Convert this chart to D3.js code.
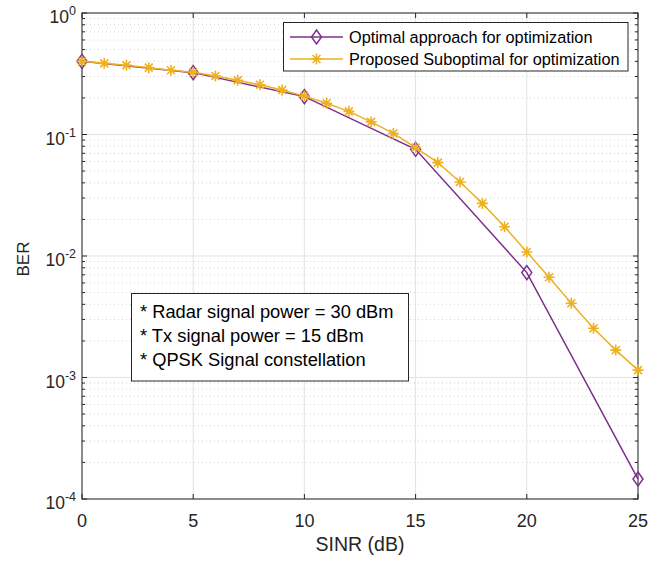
<!DOCTYPE html>
<html><head><meta charset="utf-8">
<script src="https://cdn.jsdelivr.net/npm/d3@7"></script>
<style>body{margin:0;background:#fff}svg{display:block}text{font-family:"Liberation Sans",Arial,Helvetica,sans-serif}</style>
</head><body><svg id="c" width="662" height="562"></svg>
<script>
const optX = [0, 5, 10, 15, 20, 25];
const optBER = [0.40, 0.323, 0.205, 0.0755, 0.0073, 0.000146];
const subX = [0,1,2,3,4,5,6,7,8,9,10,11,12,13,14,15,16,17,18,19,20,21,22,23,24,25];
const subBER = [0.40,0.385,0.371,0.355,0.338,0.325,0.303,0.279,0.257,0.232,0.207,0.181,0.155,0.127,0.102,0.078,0.0587,0.0407,0.0271,0.0174,0.0108,0.00668,0.00408,0.00254,0.00168,0.00115];
const xTicks = [0, 5, 10, 15, 20, 25];
const yExps = [0, -1, -2, -3, -4];
const seriesNames = ["Optimal approach for optimization", "Proposed Suboptimal for optimization"];
const notes = ["* Radar signal power = 30 dBm", "* Tx signal power = 15 dBm", "* QPSK Signal constellation"];
const xLabel = "SINR (dB)", yLabel = "BER";

const C1 = "#7E2F8E", C2 = "#EDB120", AX = "#262626";
const L = 82, R = 638, T = 13, B = 499;
const svg = d3.select("#c");
const x = d3.scaleLinear().domain([0, 25]).range([L, R]);
const y = d3.scaleLog().domain([1e-4, 1]).range([B, T]);

const g = svg.append("g");
const minors = [];
for (let e = -4; e < 0; e++) for (let m = 2; m <= 9; m++) minors.push(m * Math.pow(10, e));
g.selectAll(".mg").data(minors).enter().append("line")
  .attr("x1", L).attr("x2", R).attr("y1", d => y(d)).attr("y2", d => y(d))
  .attr("stroke", "#c8c8c8").attr("stroke-width", 0.8).attr("stroke-dasharray", "1,3");
g.selectAll(".gy").data(yExps.map(e => Math.pow(10, e))).enter().append("line")
  .attr("x1", L).attr("x2", R).attr("y1", d => y(d)).attr("y2", d => y(d))
  .attr("stroke", "#e3e3e3").attr("stroke-width", 1);
g.selectAll(".gx").data(xTicks).enter().append("line")
  .attr("x1", d => x(d)).attr("x2", d => x(d)).attr("y1", T).attr("y2", B)
  .attr("stroke", "#e3e3e3").attr("stroke-width", 1);

const axG = svg.append("g");
axG.append("rect").attr("x", L).attr("y", T).attr("width", R - L).attr("height", B - T)
  .attr("fill", "none").attr("stroke", AX).attr("stroke-width", 1);
xTicks.forEach(t => {
  axG.append("line").attr("x1", x(t)).attr("x2", x(t)).attr("y1", B).attr("y2", B - 5).attr("stroke", AX);
  axG.append("line").attr("x1", x(t)).attr("x2", x(t)).attr("y1", T).attr("y2", T + 5).attr("stroke", AX);
  axG.append("text").attr("x", x(t)).attr("y", 527).attr("text-anchor", "middle")
    .attr("font-size", 18).attr("fill", AX).text(t);
});
yExps.forEach(e => {
  const v = Math.pow(10, e);
  axG.append("line").attr("x1", L).attr("x2", L + 5).attr("y1", y(v)).attr("y2", y(v)).attr("stroke", AX);
  axG.append("line").attr("x1", R).attr("x2", R - 5).attr("y1", y(v)).attr("y2", y(v)).attr("stroke", AX);
  const tx = axG.append("text").attr("x", L - 6).attr("y", y(v) + 10).attr("text-anchor", "end")
    .attr("font-size", 17.5).attr("fill", AX);
  tx.append("tspan").text("10");
  tx.append("tspan").attr("dy", -8).attr("font-size", 12.5).text(e);
});
minors.forEach(v => {
  axG.append("line").attr("x1", L).attr("x2", L + 3).attr("y1", y(v)).attr("y2", y(v)).attr("stroke", AX);
  axG.append("line").attr("x1", R).attr("x2", R - 3).attr("y1", y(v)).attr("y2", y(v)).attr("stroke", AX);
});
axG.append("text").attr("x", 360).attr("y", 551).attr("text-anchor", "middle")
  .attr("font-size", 19.5).attr("fill", AX).text(xLabel);
axG.append("text").attr("transform", `translate(29,259) rotate(-90)`).attr("text-anchor", "middle")
  .attr("font-size", 17).attr("fill", AX).text(yLabel);

const line = d3.line().x(d => x(d[0])).y(d => y(d[1]));
const optData = optX.map((v, i) => [v, optBER[i]]);
const subData = subX.map((v, i) => [v, subBER[i]]);
function diamond(sel, cx, cy) {
  sel.append("path").attr("d", `M${cx},${cy - 7}L${cx + 5},${cy}L${cx},${cy + 7}L${cx - 5},${cy}Z`)
    .attr("fill", "none").attr("stroke", C1).attr("stroke-width", 1.5);
}
function star(sel, cx, cy) {
  const r = 5.5, d = r * 0.72;
  sel.append("path").attr("d", `M${cx - r},${cy}H${cx + r}M${cx},${cy - r}V${cy + r}M${cx - d},${cy - d}L${cx + d},${cy + d}M${cx - d},${cy + d}L${cx + d},${cy - d}`)
    .attr("fill", "none").attr("stroke", C2).attr("stroke-width", 1.6);
}
const pg = svg.append("g");
pg.append("path").datum(optData).attr("d", line).attr("fill", "none").attr("stroke", C1).attr("stroke-width", 1.5);
optData.forEach(d => diamond(pg, x(d[0]), y(d[1])));
pg.append("path").datum(subData).attr("d", line).attr("fill", "none").attr("stroke", C2).attr("stroke-width", 1.5);
subData.forEach(d => star(pg, x(d[0]), y(d[1])));

const lg = svg.append("g");
lg.append("rect").attr("x", 283.5).attr("y", 22.5).attr("width", 344.5).attr("height", 48.5)
  .attr("fill", "#fff").attr("stroke", AX).attr("stroke-width", 1);
[[C1, 37], [C2, 59]].forEach((c, i) => {
  lg.append("line").attr("x1", 290).attr("x2", 343).attr("y1", c[1]).attr("y2", c[1]).attr("stroke", c[0]).attr("stroke-width", 1.5);
  if (i === 0) diamond(lg, 316.5, c[1]); else star(lg, 316.5, c[1]);
  lg.append("text").attr("x", 349).attr("y", c[1] + 6).attr("font-size", 16.3).attr("fill", "#000").text(seriesNames[i]);
});

const an = svg.append("g");
an.append("rect").attr("x", 131.5).attr("y", 293.5).attr("width", 277).attr("height", 87.5)
  .attr("fill", "#fff").attr("stroke", AX).attr("stroke-width", 1);
notes.forEach((t, i) => {
  an.append("text").attr("x", 140).attr("y", 318 + i * 23.8).attr("font-size", 18.3).attr("fill", "#000").text(t);
});
</script></body></html>
